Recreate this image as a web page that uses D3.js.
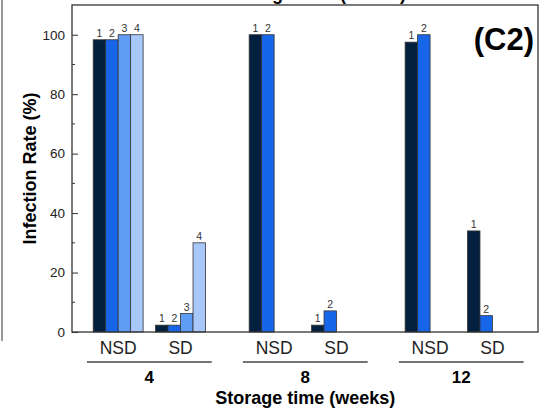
<!DOCTYPE html>
<html>
<head>
<meta charset="utf-8">
<script src="https://cdn.jsdelivr.net/npm/d3@7"></script>
<style>
  body { margin: 0; background: #fff; }
  svg { display: block; font-family: "Liberation Sans", Arial, sans-serif; }
</style>
</head>
<body>
<div id="chart"></div>
<script>
// data
const weeks = ['4', '8', '12'];
const treatments = ['NSD', 'SD'];
const positions = [1, 2, 3.5, 4.5, 6, 7]; // NSD4, SD4, NSD8, SD8, NSD12, SD12
const nsd4 = [98.3, 98.3, 100, 100];
const sd4 = [2.3, 2.3, 6.2, 30];
const nsd8 = [100, 100];
const sd8 = [2.3, 7.1];
const nsd12 = [97.5, 100];
const sd12 = [34, 5.5];
const yTicks = [0, 20, 40, 60, 80, 100];
const yMinor = [10, 30, 50, 70, 90];
const colors = ['#04203f', '#1766ea', '#5f9cf6', '#a9c8fa'];

const groups = [nsd4, sd4, nsd8, sd8, nsd12, sd12].map((vals, i) => ({
  week: weeks[Math.floor(i / 2)],
  treat: treatments[i % 2],
  pos: positions[i],
  vals,
}));

const W = 553, H = 413;
const margin = { top: 5, right: 15, bottom: 81, left: 72 };
const width = W - margin.left - margin.right;
const height = H - margin.top - margin.bottom;
const barW = 0.2;

const svg = d3.select('#chart').append('svg').attr('width', W).attr('height', H);

// neighbouring panel edge and the title clipped at the top edge (as in the source)
svg.append('line').attr('x1', 2).attr('x2', 2).attr('y1', 0).attr('y2', 341)
  .attr('stroke', '#555').attr('stroke-width', 1.2);
svg.append('text').attr('x', 316).attr('y', 0).attr('text-anchor', 'middle')
  .attr('font-size', 18).attr('font-weight', 'bold').text('Storage time (weeks)');

const g = svg.append('g').attr('transform', `translate(${margin.left},${margin.top})`);

const x = d3.scaleLinear().domain([0.66, 8.13]).range([0, width]);
const y = d3.scaleLinear().domain([0, 110]).range([height, 0]);

// bars
const grp = g.selectAll('.grp').data(groups).enter().append('g');
grp.selectAll('rect').data(d => d.vals.map((v, j) => ({ v, j, pos: d.pos }))).enter()
  .append('rect')
  .attr('x', d => x(d.pos + d.j * barW))
  .attr('y', d => y(d.v))
  .attr('width', x(barW) - x(0))
  .attr('height', d => y(0) - y(d.v))
  .attr('fill', d => colors[d.j])
  .attr('stroke', '#333').attr('stroke-width', 0.8);

grp.selectAll('text').data(d => d.vals.map((v, j) => ({ v, j, pos: d.pos }))).enter()
  .append('text')
  .attr('x', d => x(d.pos + d.j * barW + barW / 2))
  .attr('y', d => y(d.v) - 3)
  .attr('text-anchor', 'middle').attr('font-size', 10.5).attr('fill', '#333')
  .text(d => d.j + 1);

// frame
g.append('rect').attr('width', width).attr('height', height)
  .attr('fill', 'none').attr('stroke', '#333').attr('stroke-width', 1.3);

// y axis with inward ticks
const yAxis = g.append('g').call(d3.axisLeft(y).tickValues(yTicks).tickSize(-6).tickPadding(7));
yAxis.select('.domain').remove();
yAxis.selectAll('line').attr('stroke', '#333');
yAxis.selectAll('text').attr('font-size', 13.5).attr('fill', '#222')
  .attr('font-family', '"Liberation Sans", Arial, sans-serif');
g.selectAll('.minor').data(yMinor).enter().append('line')
  .attr('x1', 0).attr('x2', 3).attr('y1', d => y(d)).attr('y2', d => y(d))
  .attr('stroke', '#333');

// category labels
g.selectAll('.cat').data(groups).enter().append('text')
  .attr('x', d => x(d.pos + 2 * barW)).attr('y', height + 22)
  .attr('text-anchor', 'middle').attr('font-size', 17.5).attr('fill', '#222')
  .text(d => d.treat);

// week brackets
const weekGroups = weeks.map((w, i) => ({ w, a: positions[i * 2], b: positions[i * 2 + 1] }));
g.selectAll('.wl').data(weekGroups).enter().append('line')
  .attr('x1', d => x(d.a - 0.1)).attr('x2', d => x(d.b + 0.9))
  .attr('y1', height + 30).attr('y2', height + 30)
  .attr('stroke', '#444').attr('stroke-width', 1.6);
g.selectAll('.wt').data(weekGroups).enter().append('text')
  .attr('x', d => x((d.a + d.b + 0.8) / 2)).attr('y', height + 51)
  .attr('text-anchor', 'middle').attr('font-size', 17).attr('font-weight', 'bold')
  .text(d => d.w);

// axis titles
g.append('text').attr('x', x(4.4)).attr('y', height + 72)
  .attr('text-anchor', 'middle').attr('font-size', 18).attr('font-weight', 'bold')
  .text('Storage time (weeks)');
svg.append('text').attr('transform', `translate(36,${margin.top + height / 2}) rotate(-90)`)
  .attr('text-anchor', 'middle').attr('font-size', 18).attr('font-weight', 'bold')
  .text('Infection Rate (%)');

// panel tag
svg.append('text').attr('x', 534).attr('y', 50).attr('text-anchor', 'end')
  .attr('font-size', 31).attr('font-weight', 'bold').text('(C2)');
</script>
</body>
</html>
